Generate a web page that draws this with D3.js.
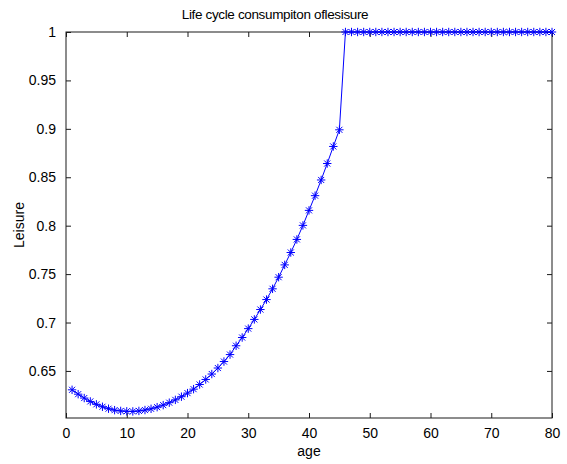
<!DOCTYPE html>
<html>
<head>
<meta charset="utf-8">
<script src="https://cdn.jsdelivr.net/npm/d3@7"></script>
<style>
  html, body { margin: 0; padding: 0; background: #fff; }
  text { font-family: "Liberation Sans", Arial, Helvetica, sans-serif; fill: #000; }
</style>
</head>
<body>
<svg id="chart" width="567" height="464"></svg>
<script>
const titleText = "Life cycle consumpiton oflesisure";
const xLabel = "age";
const yLabel = "Leisure";
const ages = d3.range(1, 81);
const leisureCurve = [
  0.6305, 0.6260, 0.6220, 0.6185, 0.6155, 0.6130, 0.6110, 0.6095, 0.6087, 0.6083,
  0.6082, 0.6087, 0.6096, 0.6109, 0.6126, 0.6147, 0.6172, 0.6201, 0.6234, 0.6271,
  0.6312, 0.6360, 0.6412, 0.6468, 0.6530, 0.6597, 0.6669, 0.6760, 0.6845, 0.6937,
  0.7032, 0.7134, 0.7237, 0.7348, 0.7468, 0.7595, 0.7723, 0.7858, 0.8003, 0.8158,
  0.8310, 0.8472, 0.8642, 0.8818, 0.8990
];
const leisureRetired = new Array(35).fill(1);
const leisure = leisureCurve.concat(leisureRetired);
const xTicks = [0, 10, 20, 30, 40, 50, 60, 70, 80];
const yTicks = [0.65, 0.7, 0.75, 0.8, 0.85, 0.9, 0.95, 1];

const svg = d3.select("#chart");
const L = 66, R = 552, T = 32, B = 418;
const x = d3.scaleLinear().domain([0, 80]).range([L, R]);
const y = d3.scaleLinear().domain([0.6014, 1]).range([B, T]);

const data = ages.map((a, i) => ({ age: a, v: leisure[i] }));

const tickLen = 5;
svg.append("g").attr("transform", `translate(0,${B})`)
  .call(d3.axisBottom(x).tickValues(xTicks).tickSizeInner(-tickLen).tickSizeOuter(0).tickPadding(10).tickFormat(d3.format("d")))
  .call(g => g.select(".domain").remove())
  .call(g => g.selectAll("text").attr("font-size", 14));
svg.append("g").attr("transform", `translate(0,${T})`)
  .call(d3.axisTop(x).tickValues(xTicks).tickSizeInner(-tickLen).tickSizeOuter(0).tickFormat(""))
  .call(g => g.select(".domain").remove());
svg.append("g").attr("transform", `translate(${L},0)`)
  .call(d3.axisLeft(y).tickValues(yTicks).tickSizeInner(-tickLen).tickSizeOuter(0).tickPadding(10).tickFormat(d => String(+d.toFixed(2))))
  .call(g => g.select(".domain").remove())
  .call(g => g.selectAll("text").attr("font-size", 14));
svg.append("g").attr("transform", `translate(${R},0)`)
  .call(d3.axisRight(y).tickValues(yTicks).tickSizeInner(-tickLen).tickSizeOuter(0).tickFormat(""))
  .call(g => g.select(".domain").remove());
svg.selectAll(".tick line").attr("stroke", "#1a1a1a").attr("stroke-width", 1);

svg.append("rect").attr("x", L).attr("y", T).attr("width", R - L).attr("height", B - T)
  .attr("fill", "none").attr("stroke", "#1a1a1a").attr("stroke-width", 1);

svg.append("path").datum(data)
  .attr("fill", "none").attr("stroke", "#0000ff").attr("stroke-width", 1)
  .attr("d", d3.line().x(d => x(d.age)).y(d => y(d.v)));

const r = 4.2;
const star = `M${-r},0L${r},0M0,${-r}L0,${r}M${-r*0.72},${-r*0.72}L${r*0.72},${r*0.72}M${-r*0.72},${r*0.72}L${r*0.72},${-r*0.72}`;
svg.append("g").selectAll("path").data(data).join("path")
  .attr("transform", d => `translate(${x(d.age)},${y(d.v)})`)
  .attr("d", star).attr("fill", "none").attr("stroke", "#0000ff").attr("stroke-width", 1);

svg.append("text").attr("x", 275).attr("y", 19).attr("text-anchor", "middle")
  .attr("font-size", 13.5).attr("letter-spacing", -0.35).text(titleText);
svg.append("text").attr("x", (L + R) / 2).attr("y", 456).attr("text-anchor", "middle")
  .attr("font-size", 14).text(xLabel);
svg.append("text").attr("transform", `translate(24,${(T + B) / 2}) rotate(-90)`)
  .attr("text-anchor", "middle").attr("font-size", 14).text(yLabel);
</script>
</body>
</html>
